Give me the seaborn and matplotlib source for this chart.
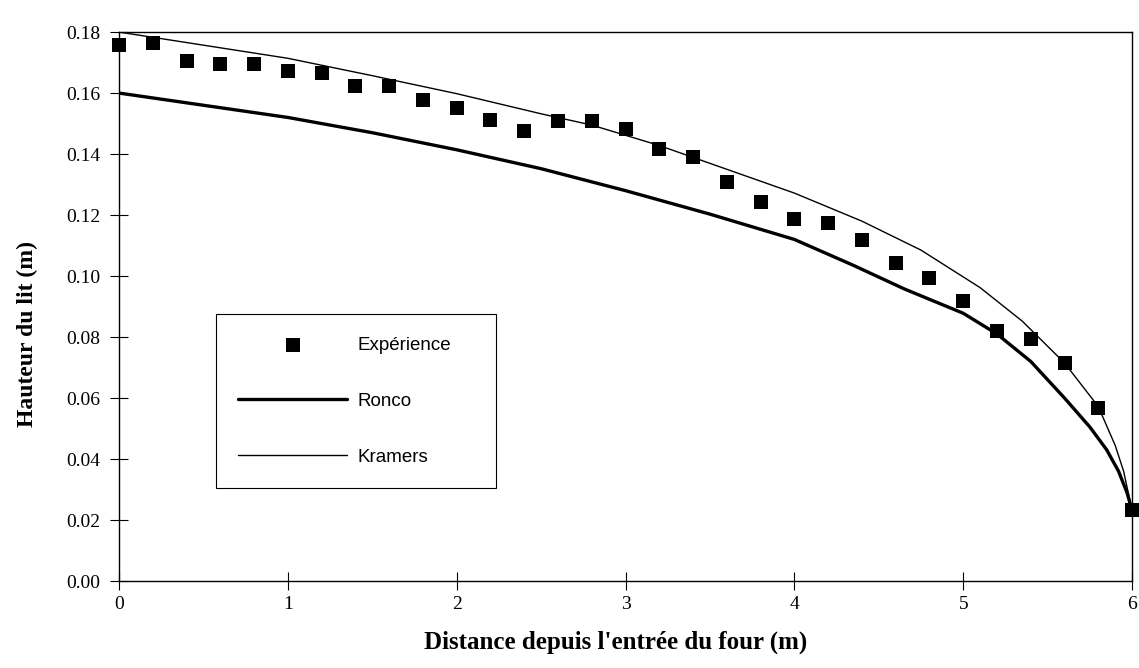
import matplotlib
matplotlib.use("Agg")
import matplotlib.pyplot as plt
import seaborn as sns
import pandas as pd

# Experimental bed height (points every 0.2 m)
exp_x = [0.0, 0.2, 0.4, 0.6, 0.8, 1.0, 1.2, 1.4, 1.6, 1.8, 2.0, 2.2, 2.4, 2.6, 2.8, 3.0,
         3.2, 3.4, 3.6, 3.8, 4.0, 4.2, 4.4, 4.6, 4.8, 5.0, 5.2, 5.4, 5.6, 5.8, 6.0]
exp_y = [0.1757, 0.1763, 0.1706, 0.1694, 0.1694, 0.1672, 0.1665, 0.1622, 0.1622, 0.1577,
         0.1550, 0.1513, 0.1476, 0.1508, 0.1508, 0.1481, 0.1418, 0.1391, 0.1310, 0.1244,
         0.1186, 0.1175, 0.1119, 0.1043, 0.0993, 0.0918, 0.0821, 0.0794, 0.0714, 0.0568,
         0.0232]

# Ronco model curve
ronco_x = [0.0, 0.5, 1.0, 1.5, 2.0, 2.5, 3.0, 3.5, 4.0, 4.35, 4.65, 5.0, 5.2, 5.4,
           5.6, 5.75, 5.85, 5.92, 5.97, 6.0]
ronco_y = [0.1600, 0.1560, 0.1520, 0.1470, 0.1414, 0.1352, 0.1280, 0.1203, 0.1120, 0.1035,
           0.0958, 0.0878, 0.0810, 0.0720, 0.0600, 0.0505, 0.0430, 0.0360, 0.0290, 0.0232]

# Kramers model curve
kramers_x = [0.0, 0.5, 1.0, 1.5, 2.0, 2.5, 2.8, 3.2, 3.6, 4.0, 4.4, 4.75, 5.1, 5.35,
             5.6, 5.8, 5.9, 5.95, 6.0]
kramers_y = [0.1800, 0.1757, 0.1714, 0.1657, 0.1598, 0.1532, 0.1495, 0.1428, 0.1350, 0.1272,
             0.1180, 0.1085, 0.0962, 0.0852, 0.0715, 0.0572, 0.0445, 0.0360, 0.0232]

x_ticks = [0, 1, 2, 3, 4, 5, 6]
y_ticks = [0.00, 0.02, 0.04, 0.06, 0.08, 0.10, 0.12, 0.14, 0.16, 0.18]

sns.set_style("white")
plt.rcParams["font.family"] = ["Liberation Serif", "DejaVu Serif"]
plt.rcParams["text.color"] = "black"

fig = plt.figure(figsize=(11.39, 6.68), dpi=100)
ax = fig.add_axes([0.1045, 0.1302, 0.8894, 0.8218])

ronco = pd.DataFrame({"x": ronco_x, "y": ronco_y})
kramers = pd.DataFrame({"x": kramers_x, "y": kramers_y})
exp = pd.DataFrame({"x": exp_x, "y": exp_y})

sns.lineplot(data=ronco, x="x", y="y", ax=ax, color="black", linewidth=2.4,
             label="Ronco", sort=False, zorder=3)
sns.lineplot(data=kramers, x="x", y="y", ax=ax, color="black", linewidth=1.0,
             label="Kramers", sort=False, zorder=3)
sns.scatterplot(data=exp, x="x", y="y", ax=ax, marker="s", s=95, color="black",
                linewidth=0, label="Expérience", zorder=4, clip_on=False)

ax.set_xlim(0, 6)
ax.set_ylim(0, 0.18)
ax.set_xticks(x_ticks)
ax.set_xticklabels([str(v) for v in x_ticks])
ax.set_yticks(y_ticks)
ax.set_yticklabels([f"{v:.2f}" for v in y_ticks])
ax.tick_params(axis="both", direction="inout", length=13, width=0.8, colors="black",
               labelcolor="black", labelsize=14, bottom=True, left=True)
ax.tick_params(axis="x", pad=4)
ax.tick_params(axis="y", pad=7)

for sp in ax.spines.values():
    sp.set_visible(True)
    sp.set_color("black")
    sp.set_linewidth(1.0)

ax.set_xlabel("Distance depuis l'entrée du four (m)", fontsize=18, fontweight="bold",
              color="black")
ax.set_ylabel("Hauteur du lit (m)", fontsize=17, fontweight="bold", color="black")
ax.xaxis.set_label_coords(0.49, -0.09)
ax.yaxis.set_label_coords(-0.08, 0.45)

handles, labels = ax.get_legend_handles_labels()
order = [labels.index("Expérience"), labels.index("Ronco"), labels.index("Kramers")]
leg = ax.legend([handles[i] for i in order], [labels[i] for i in order],
                bbox_to_anchor=(0.1896, 0.262, 0.2458, 0.268), bbox_transform=fig.transFigure,
                loc="upper left", mode="expand", borderaxespad=0, fancybox=False,
                framealpha=1, edgecolor="black", borderpad=1.2, labelspacing=2.08,
                handlelength=5.8, handletextpad=0.53,
                prop={"family": ["Liberation Sans", "DejaVu Sans"], "size": 13.5})
leg.get_frame().set_linewidth(0.8)

fig.savefig("out.png", dpi=100)
